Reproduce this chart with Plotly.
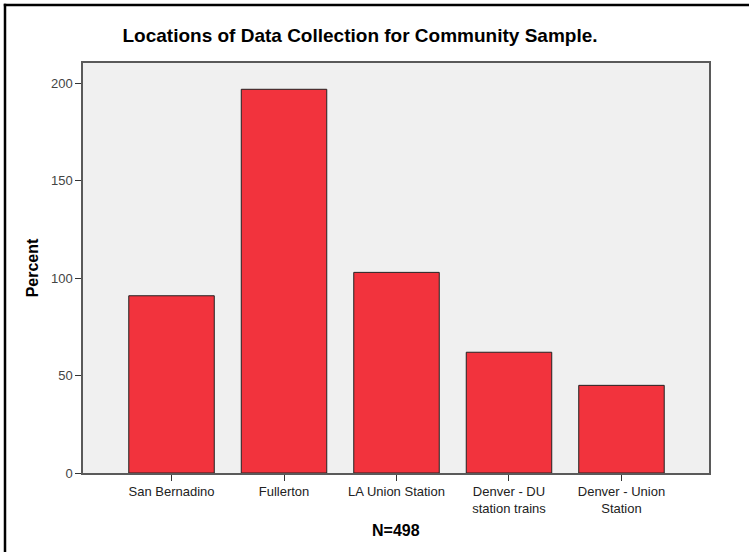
import plotly.graph_objects as go

categories = ["San Bernadino", "Fullerton", "LA Union Station",
              "Denver - DU<br>station trains", "Denver - Union<br>Station"]
values = [91, 197, 103, 62, 45]
y_ticks = [0, 50, 100, 150, 200]

W, H = 749, 552
L, R, T, B = 83, 709, 63, 473

fig = go.Figure()
fig.add_trace(go.Bar(
    x=list(range(len(categories))), y=values,
    width=0.76,
    marker=dict(color="rgb(242,51,61)", line=dict(color="#222222", width=1)),
))

def px_x(p):
    return (p - L) / (R - L)

def px_y(p):
    return (B - p) / (B - T)

fig.update_layout(
    width=W, height=H,
    margin=dict(l=L, r=W - R, t=T, b=H - B, pad=0),
    paper_bgcolor="white",
    plot_bgcolor="#f0f0f0",
    showlegend=False,
    font=dict(family="Liberation Sans, Arial, sans-serif", color="#222222"),
    title=dict(text="<b>Locations of Data Collection for Community Sample.</b>",
               x=360 / W, xanchor="center", xref="container",
               y=1 - 35 / H, yanchor="middle", yref="container",
               font=dict(size=19, color="#000000")),
    xaxis=dict(
        range=[-0.787, 4.778],
        tickmode="array", tickvals=list(range(len(categories))), ticktext=categories,
        ticks="outside", ticklen=6, tickcolor="#333333", tickwidth=1,
        showline=True, linecolor="#5a5a5a", linewidth=1.5, mirror=True,
        showgrid=False, zeroline=False,
        tickfont=dict(size=13, color="#222222"),
    ),
    yaxis=dict(
        range=[0, 210.5],
        tickmode="array", tickvals=y_ticks, ticktext=[str(v) for v in y_ticks],
        ticks="outside", ticklen=6, tickcolor="#333333", tickwidth=1,
        showline=True, linecolor="#5a5a5a", linewidth=1.5, mirror=True,
        showgrid=False, zeroline=False,
        tickfont=dict(size=13, color="#444444"),
        title=dict(text="<b>Percent</b>", font=dict(size=16, color="#000000"), standoff=8),
    ),
    annotations=[dict(
        text="<b>N=498</b>", x=0.5, xref="paper", y=px_y(530), yref="paper",
        xanchor="center", yanchor="middle", showarrow=False,
        font=dict(size=16, color="#000000"),
    )],
    shapes=[
        dict(type="line", xref="paper", yref="paper",
             x0=px_x(5), x1=px_x(5), y0=px_y(3.8), y1=px_y(H + 2),
             line=dict(color="#000000", width=2.5)),
        dict(type="line", xref="paper", yref="paper",
             x0=px_x(3.8), x1=px_x(W + 2), y0=px_y(5), y1=px_y(5),
             line=dict(color="#000000", width=2.5)),
    ],
)

fig.write_html("out.html",
               config={"displayModeBar": False},
               post_script="document.body.style.margin='0';document.body.style.overflow='hidden';")
